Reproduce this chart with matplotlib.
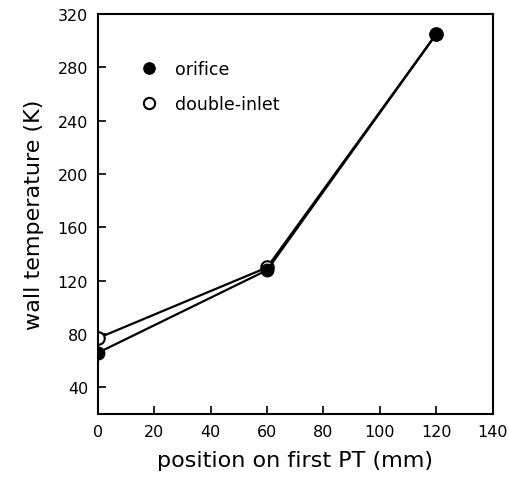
import numpy as np
import matplotlib.pyplot as plt

plt.rcParams['font.family'] = ['DejaVu Sans']

# wall temperature along the first pulse tube
position = [0, 60, 120]
orifice = [66, 128, 305]
double_inlet = [77, 130, 305]

xticks = [0, 20, 40, 60, 80, 100, 120, 140]
yticks = [40, 80, 120, 160, 200, 240, 280, 320]

fig = plt.figure(figsize=(5.1, 4.85), dpi=100)
ax = fig.add_axes([0.192, 0.144, 0.774, 0.825])

ax.plot(position, double_inlet, '-o', color='black', mfc='white', mec='black',
        ms=9, mew=1.5, lw=1.6, label='double-inlet', zorder=2)
ax.plot(position, orifice, '-o', color='black', ms=9, lw=1.6,
        label='orifice', zorder=3)

ax.set_xlim(0, 140)
ax.set_ylim(20, 320)
ax.set_xticks(xticks)
ax.set_yticks(yticks)
ax.tick_params(direction='in', length=6, width=1.2, labelsize=11.5, pad=7)
for s in ax.spines.values():
    s.set_linewidth(1.5)

ax.set_xlabel('position on first PT (mm)', fontsize=16, labelpad=8)
ax.set_ylabel('wall temperature (K)', fontsize=16, labelpad=10)

h, l = ax.get_legend_handles_labels()
ax.legend(h[::-1], l[::-1], loc='upper left', bbox_to_anchor=(0.08, 0.925),
          frameon=False, fontsize=12.5, handlelength=0.5, handletextpad=1.2,
          labelspacing=1.0, numpoints=1, markerscale=0.9)
for line in ax.get_legend().get_lines():
    line.set_linestyle('none')

fig.savefig('out.png', dpi=100)
